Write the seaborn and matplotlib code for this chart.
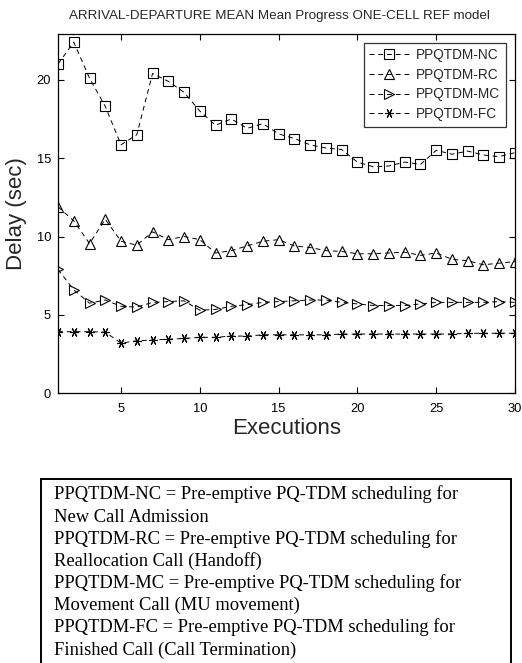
import numpy as np
import pandas as pd
import matplotlib
matplotlib.use("Agg")
import matplotlib.pyplot as plt
import seaborn as sns
from matplotlib.patches import Rectangle

executions = list(range(1, 31))
nc = [21.0, 22.4, 20.1, 18.3, 15.85, 16.5, 20.4, 19.9, 19.2, 18.0,
      17.1, 17.5, 16.9, 17.2, 16.55, 16.25, 15.85, 15.65, 15.55, 14.75,
      14.45, 14.5, 14.75, 14.6, 15.5, 15.25, 15.45, 15.2, 15.1, 15.35]
rc = [11.9, 11.0, 9.55, 11.1, 9.7, 9.45, 10.3, 9.8, 10.0, 9.8,
      8.95, 9.1, 9.4, 9.7, 9.8, 9.4, 9.3, 9.1, 9.05, 8.9,
      8.9, 8.95, 9.0, 8.8, 8.95, 8.55, 8.45, 8.2, 8.3, 8.4]
mc = [7.9, 6.6, 5.75, 5.95, 5.55, 5.5, 5.8, 5.85, 5.9, 5.3,
      5.35, 5.55, 5.65, 5.8, 5.85, 5.9, 5.95, 5.95, 5.8, 5.7,
      5.6, 5.6, 5.6, 5.7, 5.8, 5.8, 5.8, 5.8, 5.85, 5.8]
fc = [3.93, 3.93, 3.93, 3.9, 3.2, 3.35, 3.4, 3.45, 3.5, 3.57,
      3.57, 3.65, 3.65, 3.73, 3.73, 3.73, 3.73, 3.73, 3.78, 3.78,
      3.78, 3.78, 3.78, 3.78, 3.78, 3.78, 3.83, 3.83, 3.83, 3.83]
series_names = ["PPQTDM-NC", "PPQTDM-RC", "PPQTDM-MC", "PPQTDM-FC"]
x_ticks = [5, 10, 15, 20, 25, 30]
y_ticks = [0, 5, 10, 15, 20]
title = "ARRIVAL-DEPARTURE MEAN Mean Progress ONE-CELL REF model"
note_lines = [
    "PPQTDM-NC = Pre-emptive PQ-TDM scheduling for",
    "New Call Admission",
    "PPQTDM-RC = Pre-emptive PQ-TDM scheduling for",
    "Reallocation Call (Handoff)",
    "PPQTDM-MC = Pre-emptive PQ-TDM scheduling for",
    "Movement Call (MU movement)",
    "PPQTDM-FC = Pre-emptive PQ-TDM scheduling for",
    "Finished Call (Call Termination)",
]

sns.set_theme(style="white")
plt.rcParams['font.family'] = ['Liberation Sans', 'DejaVu Sans']

W, H = 522, 663
fig = plt.figure(figsize=(W / 100, H / 100), dpi=100)
ax = fig.add_axes([58 / W, 1 - 393.3 / H, (515 - 58) / W, (393.3 - 34.3) / H])

markers = ["s", "^", ">", (6, 2, 90)]
msizes = [6.5, 7, 7, 6.5]
for name, vals, mk, ms in zip(series_names, [nc, rc, mc, fc], markers, msizes):
    sns.lineplot(x=executions, y=vals, ax=ax, color="black", linestyle="--",
                 dashes=False, linewidth=0.7, marker=mk, markersize=ms,
                 markerfacecolor="none", markeredgecolor="black",
                 markeredgewidth=0.8, label=name)
for line in ax.lines:
    line.set_dashes((5, 4))

ax.set_xlim(1, 30)
ax.set_ylim(0, 22.9)
ax.set_xticks(x_ticks)
ax.set_yticks(y_ticks)
ax.tick_params(direction="in", length=4, width=0.8, top=True, right=True,
               bottom=True, left=True, labelsize=9.3, colors="black", pad=5)
ax.tick_params(axis="x", pad=7)
for s in ax.spines.values():
    s.set_color("black")
    s.set_linewidth(0.9)
    s.set_visible(True)
ax.set_xlabel("Executions", fontsize=16, labelpad=2)
ax.set_ylabel("Delay (sec)", fontsize=16, labelpad=7)
ax.set_title(title, fontsize=9.6, pad=11, x=0.485)

leg = ax.legend(loc="upper right", bbox_to_anchor=(0.98, 0.977),
                borderaxespad=0, frameon=True, fancybox=False,
                edgecolor="black", fontsize=9.8, handlelength=2.9,
                handletextpad=0.55, labelspacing=0.42, numpoints=1,
                borderpad=0.4)
leg.get_frame().set_linewidth(0.9)

# Note box below the chart
rect = Rectangle((41 / W, 1 - 720 / H), (510.7 - 41) / W, (720 - 479) / H,
                 transform=fig.transFigure, fill=False, edgecolor="black",
                 linewidth=1.4)
fig.add_artist(rect)
for i, line in enumerate(note_lines):
    base = 499.3 + i * 22.2
    fig.text(54.3 / W, 1 - base / H, line, va="baseline", ha="left",
             fontsize=13.3, family=["Liberation Serif", "DejaVu Serif"],
             color="black")

fig.savefig("out.png", dpi=100)
